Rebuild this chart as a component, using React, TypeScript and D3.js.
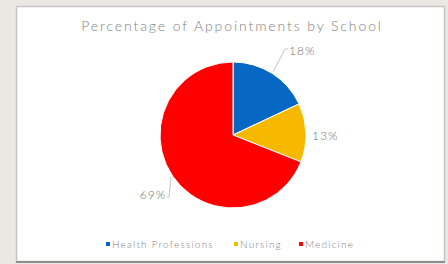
import React, { useEffect, useRef } from 'react';
import * as d3 from 'd3';

const schools = ['Health Professions', 'Nursing', 'Medicine'];
const shares = [18, 13, 69];
const colors = ['#0668c2', '#f7b900', '#fe0000'];
const labels = ['18%', '13%', '69%'];

const App = () => {
  const svgRef = useRef<SVGSVGElement | null>(null);

  useEffect(() => {
    const W = 448, H = 264;
    const svg = d3.select(svgRef.current);
    svg.selectAll('*').remove();
    svg.attr('width', W).attr('height', H);

    svg.append('rect').attr('width', W).attr('height', H).attr('fill', '#ebe8e4');
    // chart panel
    svg.append('rect')
      .attr('x', 16.5).attr('y', 6.5).attr('width', 428).attr('height', 255)
      .attr('fill', '#ffffff').attr('stroke', '#c4c4c4').attr('stroke-width', 1.5);
    svg.append('line')
      .attr('x1', 16).attr('x2', 445).attr('y1', 262).attr('y2', 262)
      .attr('stroke', '#777').attr('stroke-width', 1.5);

    svg.append('text')
      .attr('x', 232).attr('y', 31)
      .attr('text-anchor', 'middle')
      .style('font-family', 'Lato, sans-serif')
      .style('font-weight', 300)
      .style('font-size', '14px')
      .style('letter-spacing', '1.9px')
      .style('fill', '#7f7f7f')
      .text('Percentage of Appointments by School');

    const cx = 233, cy = 135, r = 73;
    const pie = d3.pie<number>().sort(null).value(d => d);
    const arc = d3.arc<d3.PieArcDatum<number>>().innerRadius(0).outerRadius(r);
    const arcs = pie(shares);

    const g = svg.append('g').attr('transform', `translate(${cx},${cy})`);
    g.selectAll('path')
      .data(arcs)
      .join('path')
      .attr('d', arc)
      .attr('fill', (d, i) => colors[i])
      .attr('stroke', '#ffffff')
      .attr('stroke-width', 1);

    // data labels with leader lines
    const labelPos: [number, number, string][] = [[56, -80, 'start'], [79, 5, 'start'], [-67, 64, 'end']];
    arcs.forEach((d, i) => {
      const [lx, ly, anchor] = labelPos[i];
      if (i !== 1) {
        const mid = (d.startAngle + d.endAngle) / 2;
        const ex = Math.sin(mid) * (r + 2), ey = -Math.cos(mid) * (r + 2);
        const pts: [number, number][] = i === 0
          ? [[ex, ey], [lx - 4, ly - 6], [lx - 1, ly - 6]]
          : [[ex, ey], [lx + 3, ly - 2], [lx + 1, ly - 2]];
        g.append('path')
          .attr('d', d3.line()(pts))
          .attr('fill', 'none').attr('stroke', '#b5b5b5').attr('stroke-width', 0.8);
      }
      g.append('text')
        .attr('x', lx).attr('y', ly)
        .attr('text-anchor', anchor)
        .style('font-family', 'Lato, sans-serif')
        .style('font-weight', 300)
        .style('font-size', '12px')
        .style('letter-spacing', '1px')
        .style('fill', '#6f6f6f')
        .text(labels[i]);
    });

    // legend
    const legendX = [106, 234, 299];
    const legend = svg.append('g');
    schools.forEach((s, i) => {
      legend.append('rect')
        .attr('x', legendX[i]).attr('y', 242).attr('width', 4).attr('height', 4)
        .attr('fill', colors[i]);
      legend.append('text')
        .attr('x', legendX[i] + 6).attr('y', 247.5)
        .style('font-family', 'Lato, sans-serif')
        .style('font-weight', 300)
        .style('font-size', '10px')
        .style('letter-spacing', '1.2px')
        .style('fill', '#7f7f7f')
        .text(s);
    });
  }, []);

  return <svg ref={svgRef} style={{ position: 'absolute', left: 0, top: 0 }}></svg>;
};

export default App;
